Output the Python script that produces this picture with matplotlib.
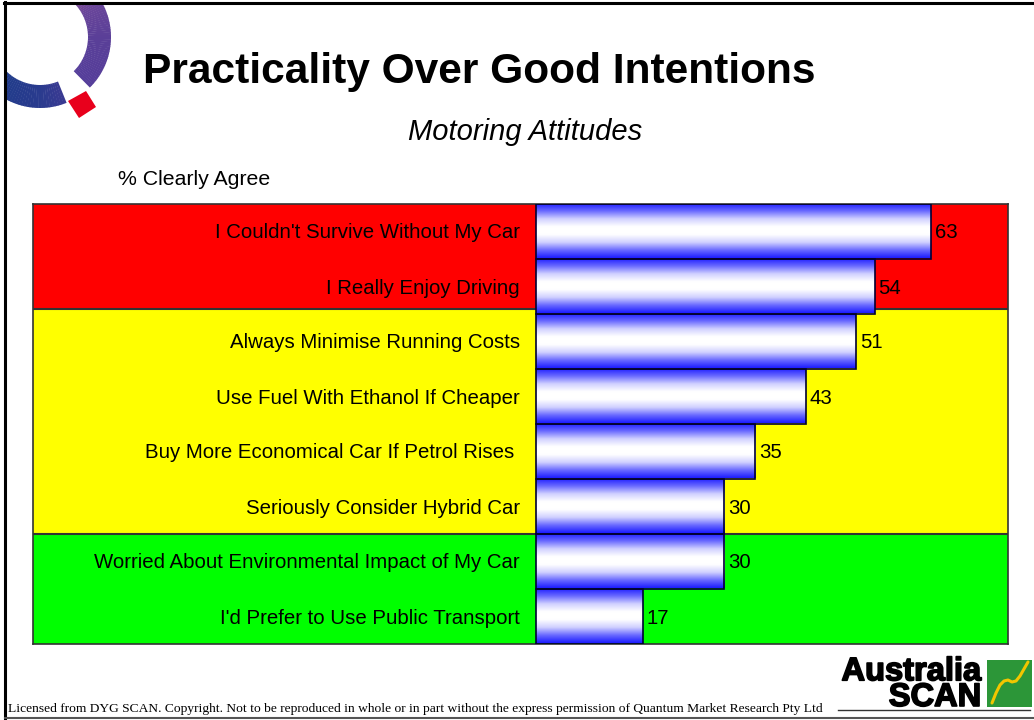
import numpy as np
import matplotlib
matplotlib.use("Agg")
import matplotlib.pyplot as plt
import matplotlib.patheffects as pe
from matplotlib.patches import Wedge, Polygon, Rectangle
from matplotlib.colors import LinearSegmentedColormap

plt.rcParams['font.family'] = ['Liberation Sans', 'DejaVu Sans']

labels = [
    "I Couldn't Survive Without My Car",
    "I Really Enjoy Driving",
    "Always Minimise Running Costs",
    "Use Fuel With Ethanol If Cheaper",
    "Buy More Economical Car If Petrol Rises ",
    "Seriously Consider Hybrid Car",
    "Worried About Environmental Impact of My Car",
    "I'd Prefer to Use Public Transport",
]
values = [63, 54, 51, 43, 35, 30, 30, 17]

# coloured groups: row edges and colours
band_edges = [-0.5, 1.42, 5.5, 7.5]
band_colors = ['#ff0000', '#ffff00', '#00ff00']

W, H = 1034, 720
fig = plt.figure(figsize=(W / 100, H / 100), dpi=100)

# background axes in pixel coords for frame and logos
bg = fig.add_axes([0, 0, 1, 1])
bg.set_xlim(0, W)
bg.set_ylim(H, 0)
bg.axis('off')

# frame lines
bg.plot([5, 5], [2, 719], color='black', lw=2.2)
bg.plot([4, 1034], [3, 3], color='black', lw=2.2)
bg.plot([5, 1034], [718, 718], color='#555555', lw=1.5)
bg.plot([838, 1030], [710, 710], color='#333333', lw=1.0)

# Q logo ring
clip = Rectangle((6, 4), 300, 300, transform=bg.transData)
ang_pts = [-250, -180, -135, -90, -68, -45, 0, 30, 70, 110]
col_pts = ['#1a3a84', '#1c3b86', '#1f3c8a', '#2a3b8e', '#3a3a92', '#553e9a',
           '#5a3f98', '#6a469a', '#a4528a', '#b05585']
rgb = np.array([matplotlib.colors.to_rgb(c) for c in col_pts])
cx, cy, R, r = 40, 37, 71, 48
for a0, a1 in [(-250, -68), (-45, 110)]:
    steps = np.linspace(a0, a1, 80)
    for s0, s1 in zip(steps[:-1], steps[1:]):
        m = 0.5 * (s0 + s1)
        c = [np.interp(m, ang_pts, rgb[:, k]) for k in range(3)]
        w = Wedge((cx, cy), R, -s1, -s0 + 0.4, width=R - r, facecolor=c,
                  edgecolor='none')
        bg.add_patch(w)
        w.set_clip_path(clip)
bg.add_patch(Polygon([(86, 91), (96, 107), (79, 118), (68, 101)],
                     closed=True, facecolor='#e8001c', edgecolor='none'))

# Australia SCAN logo
bg.text(981, 706, "Australia\nSCAN", ha='right', va='baseline',
        multialignment='right', fontsize=23.5, linespacing=0.78,
        fontweight='bold', color='black',
        path_effects=[pe.withStroke(linewidth=1.2, foreground='black')])
bg.add_patch(Rectangle((987, 660), 45, 47, facecolor='#2c9638',
                       edgecolor='none'))
cx_ = [992, 996, 1000, 1004, 1008, 1012, 1016, 1020, 1024, 1028]
cy_ = [703, 693, 685, 681, 680, 682, 681, 676, 669, 662]
bg.plot(cx_, cy_, color='#f2c600', lw=2.2, solid_capstyle='round')

# titles
fig.text(143 / W, 1 - 83 / H, "Practicality Over Good Intentions",
         fontsize=30.6, fontweight='bold', ha='left', va='baseline')
fig.text(525 / W, 1 - 140 / H, "Motoring Attitudes", fontsize=21,
         style='italic', ha='center', va='baseline')
fig.text(118 / W, 1 - 185 / H, "% Clearly Agree", fontsize=15.3,
         ha='left', va='baseline')
fig.text(8 / W, 1 - 712 / H,
         "Licensed from DYG SCAN. Copyright. Not to be reproduced in whole or in part "
         "without the express permission of Quantum Market Research Pty Ltd",
         fontsize=9.7, family=['Liberation Serif', 'DejaVu Serif'],
         ha='left', va='baseline')

# main chart axes
x0, x1 = 33, 1008
y0, y1 = 203.5, 643.5
ax = fig.add_axes([x0 / W, 1 - y1 / H, (x1 - x0) / W, (y1 - y0) / H])
px_per_unit = 395 / 63
xlo, xhi = -(536 - x0) / px_per_unit, (x1 - 536) / px_per_unit
ax.set_xticks([])
ax.set_yticks([])
for sp in ax.spines.values():
    sp.set_color('#333333')
    sp.set_linewidth(1.2)

for i in range(len(band_colors)):
    ax.axhspan(band_edges[i], band_edges[i + 1], color=band_colors[i], zorder=0, lw=0)
for e in band_edges[1:-1]:
    ax.axhline(e, color='#333333', lw=1.5, zorder=1)

ypos = np.arange(len(values))
bars = ax.barh(ypos, values, height=1.0, color='none', edgecolor='#000033',
               linewidth=1.2, zorder=3)

grad_cmap = LinearSegmentedColormap.from_list(
    'bw', ['#1c1cff', '#6a6aff', '#d0d0ff', '#ffffff', '#ffffff', '#d0d0ff', '#6a6aff', '#1c1cff'])
t = np.linspace(0, 1, 256).reshape(-1, 1)
for b in bars:
    bx, by = b.get_x(), b.get_y()
    bw, bh = b.get_width(), b.get_height()
    im = ax.imshow(t, cmap=grad_cmap, aspect='auto', zorder=2,
                   extent=[bx, bx + bw, by + bh, by], interpolation='bilinear')
    im.set_clip_path(b)

ax.set_xlim(xlo, xhi)
ax.set_ylim(7.5, -0.5)

for i, (lab, v) in enumerate(zip(labels, values)):
    ax.text(-16 / px_per_unit, i, lab, ha='right', va='center_baseline', fontsize=14.7)
    ax.text(v + 4 / px_per_unit, i, str(v), ha='left', va='center_baseline', fontsize=14.7)

fig.savefig('out.png', dpi=100)
